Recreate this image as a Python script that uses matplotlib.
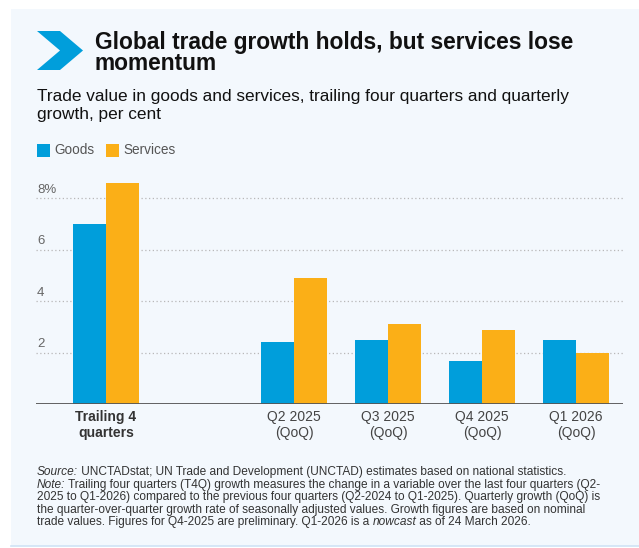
"""Global trade growth: goods vs services, T4Q and quarterly growth."""
from __future__ import annotations

import matplotlib

matplotlib.use("Agg")
import matplotlib.pyplot as plt
import numpy as np
from matplotlib.patches import Polygon, Rectangle

CATEGORIES = ["Trailing 4\nquarters", "Q2 2025\n(QoQ)", "Q3 2025\n(QoQ)",
              "Q4 2025\n(QoQ)", "Q1 2026\n(QoQ)"]
GOODS = [7.0, 2.4, 2.5, 1.7, 2.5]
SERVICES = [8.6, 4.9, 3.1, 2.9, 2.0]
Y_TICKS = [2, 4, 6, 8]
Y_TICK_LABELS = ["2", "4", "6", "8%"]

BLUE = "#009edb"
ORANGE = "#fbaf17"
PANEL = "#f3f8fd"
FONT = "Liberation Sans"
W, H = 639, 548

plt.rcParams["font.family"] = [FONT, "DejaVu Sans"]


def fx(px: float) -> float:
    return px / W


def fy(py: float) -> float:
    return 1 - py / H


def rich_line(fig, renderer, x_px, y_px, parts, size, color):
    x = fx(x_px)
    for text, style in parts:
        t = fig.text(x, fy(y_px), text, fontsize=size, color=color,
                     fontstyle=style, va="center", ha="left")
        bbox = t.get_window_extent(renderer=renderer)
        x += bbox.width / fig.dpi / fig.get_figwidth()


def main() -> None:
    fig = plt.figure(figsize=(W / 100, H / 100), dpi=100, facecolor="white")

    # background panel + bottom rule
    fig.patches.append(Rectangle((fx(11), fy(546)), 1 - fx(11), fy(9) - fy(546),
                                 transform=fig.transFigure, facecolor=PANEL,
                                 edgecolor="none", zorder=-10))
    fig.add_artist(plt.Line2D([fx(11), 1], [fy(546), fy(546)],
                              transform=fig.transFigure, color="#cfe3f5", lw=1.2))

    # chevron icon
    chevron = [(37, 31), (60, 31), (83, 50.5), (60, 70), (37, 70), (60, 50.5)]
    fig.patches.append(Polygon([(fx(a), fy(b)) for a, b in chevron], closed=True,
                               transform=fig.transFigure, facecolor=BLUE,
                               edgecolor="none"))

    fig.text(fx(95), fy(42), "Global trade growth holds, but services lose",
             fontsize=16.4, fontweight="bold", color="#111111", va="center")
    fig.text(fx(95), fy(64), "momentum",
             fontsize=16.4, fontweight="bold", color="#111111", va="center")
    fig.text(fx(37), fy(97),
             "Trade value in goods and services, trailing four quarters and quarterly",
             fontsize=12.4, color="#111111", va="center")
    fig.text(fx(37), fy(114), "growth, per cent",
             fontsize=12.4, color="#111111", va="center")

    # legend
    for x0, color, label in [(37, BLUE, "Goods"), (106, ORANGE, "Services")]:
        fig.patches.append(Rectangle((fx(x0), fy(157)), fx(13), fy(144) - fy(157),
                                     transform=fig.transFigure, facecolor=color,
                                     edgecolor="none"))
        fig.text(fx(x0 + 17), fy(150.5), label, fontsize=9.8, color="#555555",
                 va="center")

    ax = fig.add_axes([fx(36), fy(404.3), fx(623) - fx(36), fy(172.5) - fy(404.3)])
    ax.set_facecolor("none")
    x = np.array([0, 2, 3, 4, 5], dtype=float)
    width = 0.35
    ax.bar(x - width / 2, GOODS, width, color=BLUE, zorder=3)
    ax.bar(x + width / 2, SERVICES, width, color=ORANGE, zorder=3)
    ax.set_xlim(-0.745, 5.5)
    ax.set_ylim(0, 9)
    for spine in ax.spines.values():
        spine.set_visible(False)
    ax.axhline(0, color="#555555", lw=1.3, zorder=4)
    for value, label in zip(Y_TICKS, Y_TICK_LABELS):
        ax.axhline(value, color="#b8b8b8", lw=0.9, ls=(0, (1, 2)), zorder=1)
        ax.text(0.002, value + 0.1, label, transform=ax.get_yaxis_transform(),
                fontsize=9.5, color="#666666", ha="left", va="bottom")
    ax.set_yticks([])
    ax.set_xticks(x, CATEGORIES)
    ax.tick_params(axis="x", length=0, pad=4, labelsize=10, labelcolor="#444444")
    first = ax.get_xticklabels()[0]
    first.set_fontweight("bold")
    first.set_color("#333333")

    fig.canvas.draw()
    renderer = fig.canvas.get_renderer()
    footer = [
        [("Source:", "italic"),
         (" UNCTADstat; UN Trade and Development (UNCTAD) estimates based on national statistics.", "normal")],
        [("Note:", "italic"),
         (" Trailing four quarters (T4Q) growth measures the change in a variable over the last four quarters (Q2-", "normal")],
        [("2025 to Q1-2026) compared to the previous four quarters (Q2-2024 to Q1-2025). Quarterly growth (QoQ) is", "normal")],
        [("the quarter-over-quarter growth rate of seasonally adjusted values. Growth figures are based on nominal", "normal")],
        [("trade values. Figures for Q4-2025 are preliminary. Q1-2026 is a ", "normal"),
         ("nowcast", "italic"), (" as of 24 March 2026.", "normal")],
    ]
    for i, parts in enumerate(footer):
        rich_line(fig, renderer, 37, 472 + i * 12.6, parts, 8.6, "#333333")

    fig.savefig("out.png", dpi=100, facecolor="white")
    plt.close(fig)


if __name__ == "__main__":
    main()
